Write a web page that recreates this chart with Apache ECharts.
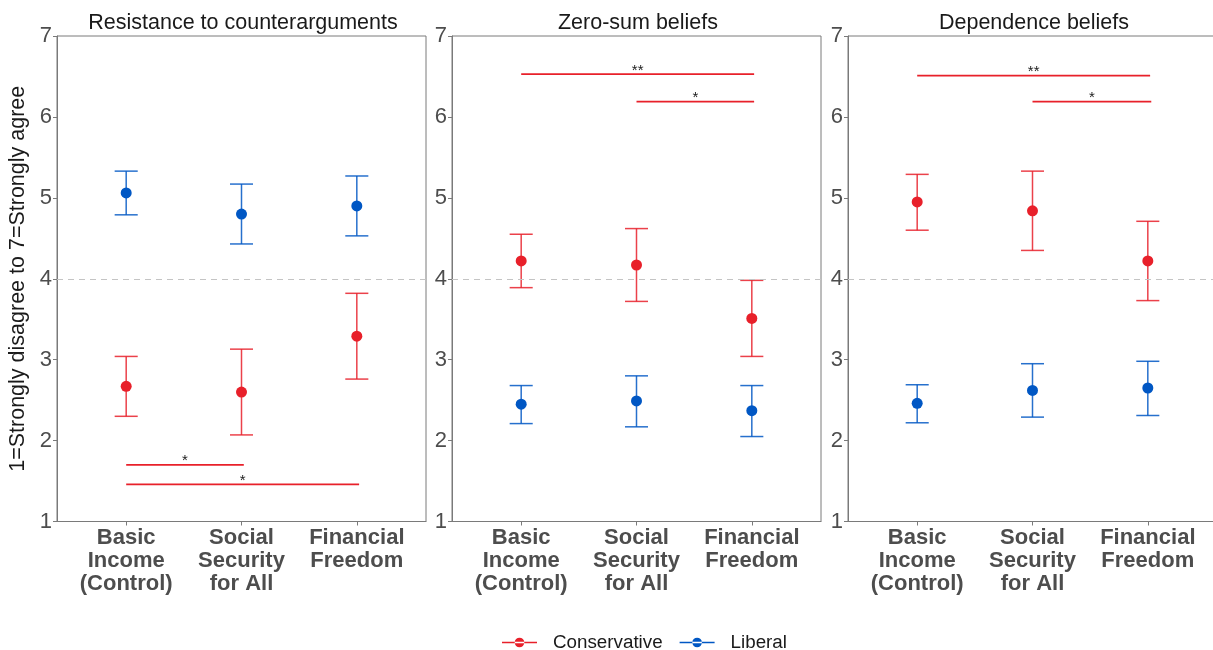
<!DOCTYPE html>
<html>
<head>
<meta charset="utf-8">
<script src="https://cdn.jsdelivr.net/npm/echarts@6/dist/echarts.min.js"></script>
<style>html,body{margin:0;padding:0;background:#fff}#c{width:1213px;height:650px}</style>
</head>
<body>
<div id="c"></div>
<script>
// ---- data ----
const panelTitles = ['Resistance to counterarguments', 'Zero-sum beliefs', 'Dependence beliefs'];
const categories = ['Basic\nIncome\n(Control)', 'Social\nSecurity\nfor All', 'Financial\nFreedom'];
const yTicks = [1, 2, 3, 4, 5, 6, 7];
const groups = ['Conservative', 'Liberal'];

// mean, lower, upper per category, per panel
const consMean  = [[2.67, 2.60, 3.29], [4.22, 4.17, 3.51], [4.95, 4.84, 4.22]];
const consLower = [[2.30, 2.07, 2.76], [3.89, 3.72, 3.04], [4.60, 4.35, 3.73]];
const consUpper = [[3.04, 3.13, 3.82], [4.55, 4.62, 3.98], [5.29, 5.33, 4.71]];
const libMean   = [[5.06, 4.80, 4.90], [2.45, 2.49, 2.37], [2.46, 2.62, 2.65]];
const libLower  = [[4.79, 4.43, 4.53], [2.21, 2.17, 2.05], [2.22, 2.29, 2.31]];
const libUpper  = [[5.33, 5.17, 5.27], [2.68, 2.80, 2.68], [2.69, 2.95, 2.98]];

// significance brackets: [panel, xStart, xEnd, y, label]
const sigPanel = [0, 0, 1, 1, 2, 2];
const sigX1    = [1, 1, 1, 2, 1, 2];
const sigX2    = [2.02, 3.02, 3.02, 3.02, 3.02, 3.03];
const sigY     = [1.70, 1.46, 6.53, 6.19, 6.51, 6.19];
const sigLabel = ['*', '*', '**', '*', '**', '*'];

const refLine = 4;

// ---- styling ----
const RED = '#E8202A', BLUE = '#0057C4';
const FONT = '"Liberation Sans", Arial, sans-serif';
const gridLefts = [57, 452, 848];
const GW = 369, GT = 36, GH = 485.5;

const grids = [], xAxes = [], yAxes = [], titles = [], series = [];

function errSeries(name, color, mean, lower, upper, p) {
  const data = mean.map((m, i) => [i + 1, lower[i], upper[i]]);
  series.push({
    type: 'custom', name: name, xAxisIndex: p, yAxisIndex: p, z: 3,
    data: data,
    renderItem: function (params, api) {
      const x = api.value(0);
      const lo = api.coord([x, api.value(1)]);
      const hi = api.coord([x, api.value(2)]);
      const hw = api.size([0.1, 0])[0];
      const st = { stroke: color, lineWidth: 1.5, opacity: 0.85 };
      return { type: 'group', children: [
        { type: 'line', shape: { x1: lo[0], y1: lo[1], x2: hi[0], y2: hi[1] }, style: st },
        { type: 'line', shape: { x1: lo[0] - hw, y1: lo[1], x2: lo[0] + hw, y2: lo[1] }, style: st },
        { type: 'line', shape: { x1: hi[0] - hw, y1: hi[1], x2: hi[0] + hw, y2: hi[1] }, style: st }
      ]};
    }
  });
  series.push({
    type: 'scatter', name: name, xAxisIndex: p, yAxisIndex: p, z: 4,
    symbolSize: 11, itemStyle: { color: color, opacity: 1 },
    data: mean.map((m, i) => [i + 1, m])
  });
}

for (let p = 0; p < 3; p++) {
  grids.push({ left: gridLefts[p], top: GT, width: GW, height: GH, show: true,
    outerBoundsMode: 'none', containLabel: false,
    borderColor: '#7a7a7a', borderWidth: 1, backgroundColor: 'transparent' });
  xAxes.push({ type: 'value', gridIndex: p, min: 0.4, max: 3.6,
    axisLine: { show: true, onZero: false, lineStyle: { color: '#7a7a7a' } },
    splitLine: { show: false },
    axisTick: { show: true, length: 4, customValues: [1, 2, 3], lineStyle: { color: '#7a7a7a' } },
    axisLabel: { customValues: [1, 2, 3], formatter: v => categories[Math.round(v) - 1],
      fontFamily: FONT, fontSize: 22, fontWeight: 'bold', color: '#4d4d4d', lineHeight: 23, margin: 5 }
  });
  yAxes.push({ type: 'value', gridIndex: p, min: 1, max: 7, interval: 1,
    name: p === 0 ? '1=Strongly disagree to 7=Strongly agree' : '',
    nameLocation: 'middle', nameGap: 28,
    nameTextStyle: { fontFamily: FONT, fontSize: 21.5, color: '#1a1a1a' },
    axisLine: { show: true, lineStyle: { color: '#7a7a7a' } },
    splitLine: { show: false },
    axisTick: { show: true, length: 4, lineStyle: { color: '#7a7a7a' } },
    axisLabel: { fontFamily: FONT, fontSize: 22, color: '#4d4d4d', margin: 5,
      formatter: v => yTicks.includes(v) ? String(v) : '' }
  });
  titles.push({ text: panelTitles[p], left: gridLefts[p] + GW / 2 - 3.5, top: 7, textAlign: 'center',
    textStyle: { fontFamily: FONT, fontSize: 21.5, fontWeight: 'normal', color: '#1a1a1a' } });

  // reference dashed line
  series.push({ type: 'line', xAxisIndex: p, yAxisIndex: p, data: [], silent: true,
    markLine: { symbol: 'none', silent: true, label: { show: false },
      lineStyle: { color: '#c4c4c4', type: [6, 5], width: 1.2 },
      data: [{ yAxis: refLine }] } });

  errSeries(groups[0], RED, consMean[p], consLower[p], consUpper[p], p);
  errSeries(groups[1], BLUE, libMean[p], libLower[p], libUpper[p], p);

  // significance brackets
  const idx = sigPanel.map((q, i) => q === p ? i : -1).filter(i => i >= 0);
  series.push({
    type: 'custom', xAxisIndex: p, yAxisIndex: p, z: 5, silent: true,
    data: idx.map(i => [sigX1[i], sigX2[i], sigY[i], i]),
    renderItem: function (params, api) {
      const a = api.coord([api.value(0), api.value(2)]);
      const b = api.coord([api.value(1), api.value(2)]);
      const lab = sigLabel[api.value(3)];
      return { type: 'group', children: [
        { type: 'line', shape: { x1: a[0], y1: a[1], x2: b[0], y2: b[1] },
          style: { stroke: RED, lineWidth: 1.8 } },
        { type: 'text', x: (a[0] + b[0]) / 2, y: a[1] + 4,
          style: { text: lab, fill: '#1a1a1a', font: '15px ' + FONT, align: 'center', verticalAlign: 'bottom' } }
      ]};
    }
  });
}

const legendIcon = 'path://M0,4.6 L35,4.6 L35,6.0 L0,6.0 Z M17.5,0.5 A4.8,4.8 0 1 0 17.5,10.1 A4.8,4.8 0 1 0 17.5,0.5 Z';

const option = {
  animation: false,
  backgroundColor: '#ffffff',
  title: titles,
  grid: grids,
  xAxis: xAxes,
  yAxis: yAxes,
  legend: {
    data: groups.map((g, i) => ({ name: g, icon: legendIcon, itemStyle: { color: i === 0 ? RED : BLUE } })),
    left: 497, top: 628, itemWidth: 35, itemHeight: 10, itemGap: 17,
    textStyle: { fontFamily: FONT, fontSize: 18.8, color: '#1a1a1a', padding: [0, 0, 0, 11] },
    selectedMode: false
  },
  series: series
};

const chart = echarts.init(document.getElementById('c'), null, { renderer: 'canvas' });
chart.setOption(option);
</script>
</body>
</html>
